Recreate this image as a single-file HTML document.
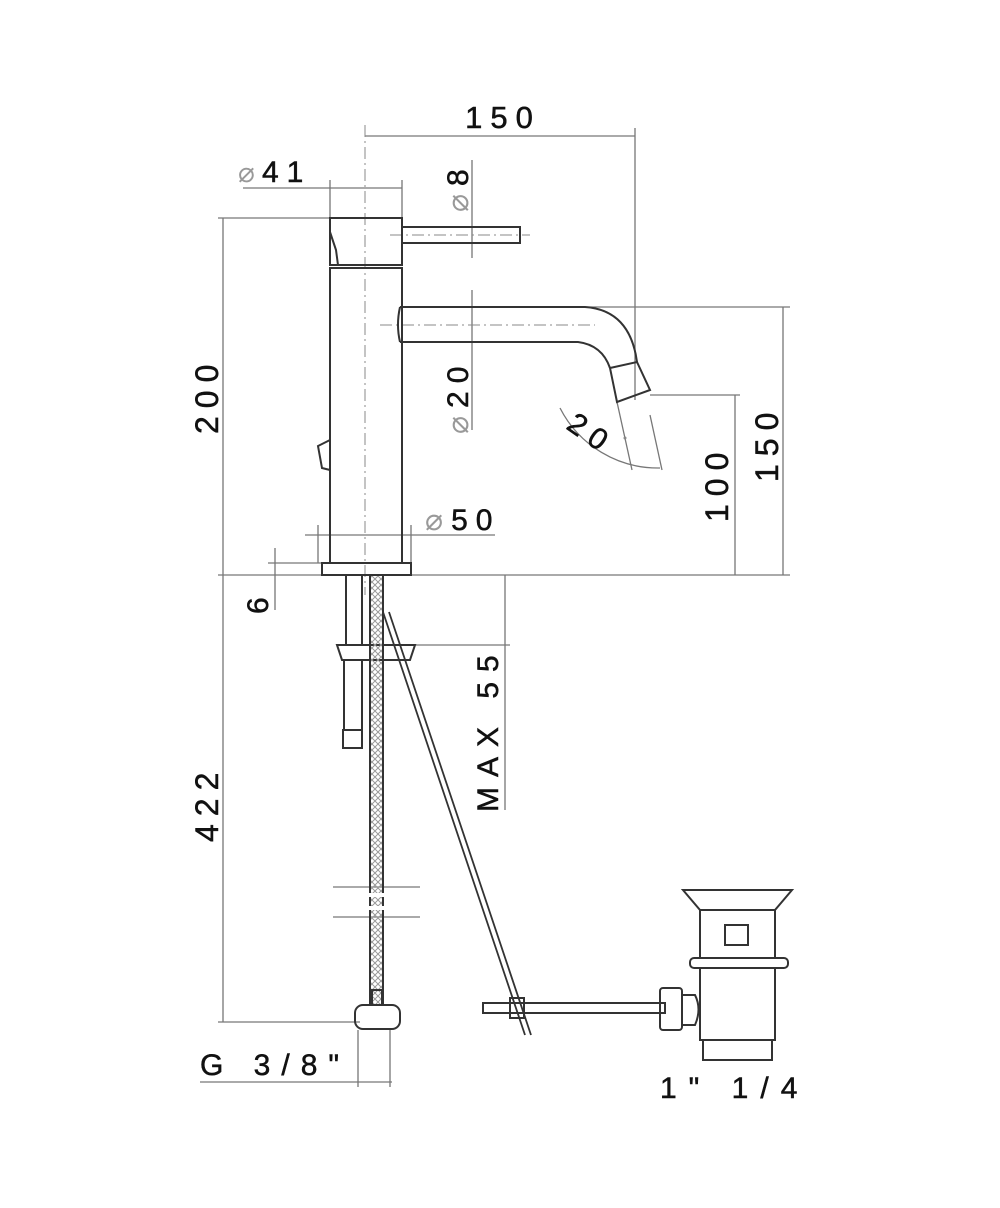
<!DOCTYPE html>
<html><head><meta charset="utf-8"><style>html,body{margin:0;padding:0;background:#fff}svg{display:block}
text{font-family:"Liberation Sans",sans-serif;fill:#111;letter-spacing:8px;stroke:#111;stroke-width:0.5}</style></head><body>
<svg width="1000" height="1208" viewBox="0 0 1000 1208" xmlns="http://www.w3.org/2000/svg">
<defs><pattern id="h" width="6" height="6" patternUnits="userSpaceOnUse"><path d="M0 0L6 6M6 0L0 6" stroke="#999" stroke-width="1"/></pattern></defs>
<g stroke="#777" stroke-width="1.3" fill="none">
<line x1="365" y1="136" x2="635" y2="136"/><line x1="635" y1="128" x2="635" y2="400"/>
<line x1="243" y1="188" x2="402" y2="188"/><line x1="330" y1="180" x2="330" y2="218"/><line x1="402" y1="180" x2="402" y2="218"/>
<line x1="472" y1="160" x2="472" y2="258"/><line x1="472" y1="290" x2="472" y2="430"/>
<line x1="218" y1="218" x2="330" y2="218"/><line x1="223" y1="218" x2="223" y2="1022"/>
<line x1="218" y1="575" x2="790" y2="575"/>
<line x1="580" y1="307" x2="790" y2="307"/><line x1="783" y1="307" x2="783" y2="575"/>
<line x1="650" y1="395" x2="740" y2="395"/><line x1="735" y1="395" x2="735" y2="575"/>
<line x1="305" y1="535" x2="495" y2="535"/><line x1="318" y1="525" x2="318" y2="563"/><line x1="411" y1="525" x2="411" y2="563"/>
<line x1="268" y1="563" x2="330" y2="563"/><line x1="275" y1="548" x2="275" y2="610"/>
<line x1="415" y1="645" x2="510" y2="645"/><line x1="505" y1="575" x2="505" y2="810"/>
<line x1="218" y1="1022" x2="360" y2="1022"/>
<line x1="200" y1="1082" x2="392" y2="1082"/><line x1="358" y1="1030" x2="358" y2="1087"/><line x1="390" y1="1030" x2="390" y2="1087"/>
<path d="M560 408 A110 110 0 0 0 660 468"/><line x1="617" y1="402" x2="632" y2="470"/><line x1="650" y1="415" x2="662" y2="470"/>
<line x1="333" y1="887" x2="420" y2="887"/><line x1="333" y1="917" x2="420" y2="917"/>
</g>
<g stroke="#888" stroke-width="1" stroke-dasharray="12 4 2 4" fill="none">
<line x1="365" y1="125" x2="365" y2="595"/><line x1="390" y1="235" x2="530" y2="235"/><line x1="380" y1="325" x2="595" y2="325"/>
</g>
<g stroke="#333" stroke-width="2" fill="none">
<rect x="330" y="218" width="72" height="47"/>
<path d="M330 232 L336 250 L338 265"/>
<rect x="402" y="227" width="118" height="16"/>
<rect x="330" y="268" width="72" height="295"/>
<rect x="322" y="563" width="89" height="12"/>
<path d="M330 440 L318 446 L322 468 L330 470"/>
<path d="M400 307 L585 307 Q630 310 637 362 M400 342 L578 342 Q602 345 610 368 M400 307 Q396 325 400 342"/>
<path d="M610 368 L637 362 L650 390 L617 402 Z"/>
<rect x="346" y="575" width="16" height="70"/>
<path d="M337 645 L415 645 L410 660 L342 660 Z"/>
<rect x="344" y="660" width="18" height="70"/><rect x="343" y="730" width="19" height="18"/>
<rect x="370" y="575" width="13" height="430" fill="url(#h)"/>
<rect x="372" y="990" width="10" height="15"/>
<rect x="355" y="1005" width="45" height="24" rx="8"/>
<path d="M383 612 L525 1035 M389 612 L531 1035" stroke-width="1.8"/>
<rect x="483" y="1003" width="182" height="10"/><rect x="510" y="998" width="14" height="20"/>
<path d="M683 890 L792 890 L775 910 L700 910 Z"/>
<rect x="700" y="910" width="75" height="48"/><rect x="725" y="925" width="23" height="20"/>
<rect x="690" y="958" width="98" height="10" rx="4"/>
<path d="M700 968 L700 1040 L775 1040 L775 968"/>
<rect x="703" y="1040" width="69" height="20"/>
<rect x="660" y="988" width="22" height="42" rx="3"/><path d="M682 995 L695 995 Q702 1009 695 1025 L682 1025"/>
</g>
<g stroke="#fff" stroke-width="4"><line x1="368" y1="895" x2="386" y2="895"/><line x1="368" y1="908" x2="386" y2="908"/></g>
<text x="503" y="128" font-size="31" text-anchor="middle">150</text>
<text x="238" y="182" font-size="28" style="fill:#999;stroke:none">⌀</text><text x="262" y="182" font-size="30">41</text>
<text transform="translate(468,212) rotate(-90)" font-size="30"><tspan style="fill:#999;stroke:none">⌀</tspan>8</text>
<text transform="translate(468,434) rotate(-90)" font-size="30"><tspan style="fill:#999;stroke:none">⌀</tspan>20</text>
<text transform="translate(218,434) rotate(-90)" font-size="32">200</text>
<text transform="translate(778,482) rotate(-90)" font-size="32">150</text>
<text transform="translate(728,522) rotate(-90)" font-size="32">100</text>
<text transform="translate(565,428) rotate(35)" font-size="30">20</text><circle cx="625" cy="438" r="1.5" fill="#888"/>
<text x="425" y="530" font-size="30"><tspan style="fill:#999;stroke:none">⌀</tspan>50</text>
<text transform="translate(268,614) rotate(-90)" font-size="30">6</text>
<text transform="translate(218,842) rotate(-90)" font-size="32">422</text>
<text transform="translate(498,812) rotate(-90)" font-size="30" style="letter-spacing:10px">MAX  55</text>
<text x="200" y="1075" font-size="30" style="letter-spacing:11px">G  3/8"</text>
<text x="660" y="1098" font-size="30" style="letter-spacing:12px">1"  1/4</text>
</svg>
</body></html>
